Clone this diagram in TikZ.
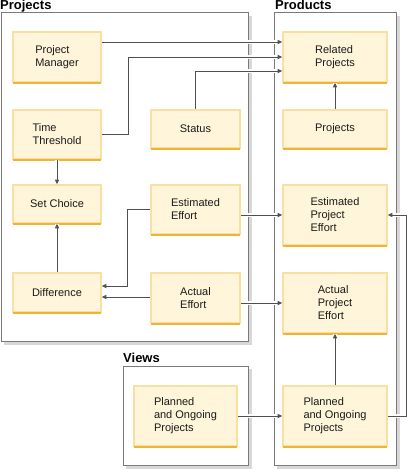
\documentclass[tikz,border=0pt]{standalone}
\usepackage{fontspec}
\setmainfont{Liberation Sans}
\usetikzlibrary{arrows.meta}
\definecolor{boxfill}{HTML}{FFF5DA}
\definecolor{boxdraw}{HTML}{FAE0A0}
\definecolor{boxbottom}{HTML}{F0B434}
\definecolor{contdraw}{HTML}{7A7A7A}
\definecolor{shadowgray}{HTML}{D8D8D8}
\definecolor{linegray}{HTML}{505050}
\definecolor{textdark}{HTML}{1A1A1A}
\begin{document}
\begin{tikzpicture}[x=1pt,y=-1pt,
  box/.style={draw=boxdraw,fill=boxfill,line width=1.6pt,align=left,inner sep=0pt,
    text=textdark,font=\fontsize{11}{13}\selectfont},
  lbox/.style={box,minimum width=88pt},
  mbox/.style={box,minimum width=89pt},
  rbox/.style={box,minimum width=104pt},
  bottomline/.style={draw=boxbottom,line width=2pt},
  container/.style={draw=contdraw,fill=white,line width=1pt},
  cshadow/.style={fill=shadowgray,draw=none},
  title/.style={anchor=base west,inner sep=0pt,font=\fontsize{13}{15}\selectfont\bfseries,text=black},
  conn/.style={draw=linegray,line width=0.9pt,preaction={draw=white,line width=3.5pt,-}},
  arr/.style={conn,-{Triangle[length=4.5pt,width=4pt]}}
]
\useasboundingbox (0,0) rectangle (409,470);
% containers
\fill[cshadow] (4,16) rectangle (252,345);
\draw[container] (1,13) rectangle (248,341);
\fill[cshadow] (277,16) rectangle (400,469);
\draw[container] (274,13) rectangle (396,465);
\fill[cshadow] (126,369) rectangle (252,469);
\draw[container] (123,366) rectangle (248,465);
\node[title] (tprojects) at (0,9.5) {Projects};
\node[title] (tproducts) at (275,9.5) {Products};
\node[title] (tviews) at (123,362.5) {Views};
% boxes
\node[lbox,minimum height=50pt] (pm) at (57,57) {Project\\Manager};
\node[lbox,minimum height=49pt] (tt) at (57,134.5) {Time\\Threshold};
\node[mbox,minimum height=38pt] (st) at (195.5,129) {Status};
\node[lbox,minimum height=38pt] (sc) at (57,204) {Set Choice};
\node[mbox,minimum height=49pt] (ee) at (195.5,209.5) {Estimated\\Effort};
\node[lbox,minimum height=39pt] (df) at (57,292.5) {Difference};
\node[mbox,minimum height=50pt] (ae) at (195.5,298) {Actual\\Effort};
\node[rbox,minimum height=50pt] (rp) at (335,57) {Related\\Projects};
\node[rbox,minimum height=38pt] (pr) at (335,129) {Projects};
\node[rbox,minimum height=60pt] (epe) at (335,215) {Estimated\\Project\\Effort};
\node[rbox,minimum height=60pt] (ape) at (335,303) {Actual\\Project\\Effort};
\node[box,minimum width=103pt,minimum height=60pt] (vpo) at (185.5,416) {Planned\\and Ongoing\\Projects};
\node[rbox,minimum height=60pt] (ppo) at (335,416) {Planned\\and Ongoing\\Projects};
\foreach \n in {pm,tt,st,sc,ee,df,ae,rp,pr,epe,ape,vpo,ppo}
  \draw[bottomline] ([xshift=0.8pt]\n.south west) -- ([xshift=-0.8pt]\n.south east);
% connectors
\coordinate (d1) at ([yshift=6.5pt]df.east);
\coordinate (d2) at ([yshift=-4.5pt]df.east);
\draw[arr] ([yshift=15pt]pm.east) -- ([yshift=15pt]rp.west);
\draw[arr] (tt.east) -- ++(27,0) |- (rp.west);
\draw[arr] (st.north) |- ([yshift=-14pt]rp.west);
\draw[arr] (pr.north) -- (rp.south);
\draw[arr] (tt.south) -- (sc.north);
\draw[arr] (df.north) -- (sc.south);
\draw[arr] (ee.west) -- ++(-23,0) |- (d1);
\draw[arr] (ae.west |- d2) -- (d2);
\draw[arr] (ee.east |- epe.west) -- (epe.west);
\draw[arr] (ae.east |- ape.west) -- (ape.west);
\draw[arr] (ppo.north) -- (ape.south);
\draw[arr] (ppo.east) -- ++(19,0) |- (epe.east);
\draw[arr] (vpo.east) -- (ppo.west);
\end{tikzpicture}
\end{document}
